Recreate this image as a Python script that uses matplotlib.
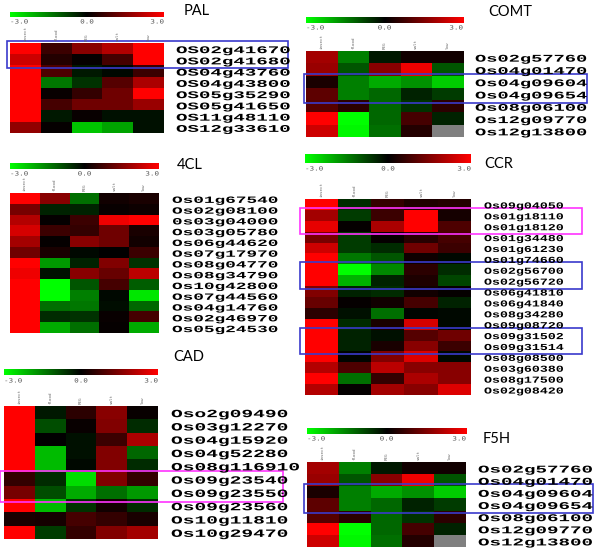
import numpy as np
import matplotlib
matplotlib.use('Agg')
import matplotlib.pyplot as plt
from matplotlib.colors import LinearSegmentedColormap
from matplotlib.patches import Rectangle
from matplotlib.transforms import Affine2D
from matplotlib import patheffects

nan = np.nan
conditions = ['insect', 'flood', 'PEG', 'salt', 'low']

pal_genes = ['OS02g41670', 'OS02g41680', 'OS04g43760', 'OS04g43800',
             'OS05g35290', 'OS05g41650', 'OS11g48110', 'OS12g33610']
pal_vals = [
    [3.0, 0.7, 1.6, 2.1, 3.0],
    [2.4, 0.4, 0.05, 0.8, 3.0],
    [3.0, 0.9, -0.3, -0.1, 0.7],
    [3.0, -1.4, -0.6, 1.0, 2.0],
    [3.0, 0.1, 0.6, 1.3, 3.0],
    [3.0, 0.8, 1.3, 1.3, 1.8],
    [3.0, -0.3, 0.1, -0.2, -0.2],
    [1.7, 0.05, -2.3, -1.9, -0.2],
]

comt_genes = ['Os02g57760', 'Os04g01470', 'Os04g09604', 'Os04g09654',
              'Os08g06100', 'Os12g09770', 'Os12g13800']
comt_vals = [
    [1.9, -1.5, -0.3, 0.2, 0.2],
    [1.8, -1.0, 1.6, 2.8, -1.0],
    [0.3, -1.5, -2.0, -1.7, -2.4],
    [1.1, -1.5, -1.2, -0.4, -0.7],
    [1.0, 0.5, -1.2, -0.6, 0.5],
    [3.0, -3.0, -1.2, 0.8, -0.4],
    [2.4, -2.9, -1.3, 0.4, nan],
]

cl4_genes = ['Os01g67540', 'Os02g08100', '0s03g04000', 'Os03g05780',
             'Os06g44620', 'Os07g17970', 'Os08g04770', 'Os08g34790',
             'Os10g42800', 'Os07g44560', 'Os04g14760', 'Os02g46970',
             'Os05g24530']
cl4_vals = [
    [3.0, 1.6, -1.3, 0.2, 0.3],
    [1.4, -0.4, -0.4, 0.1, 0.15],
    [2.1, 0.05, 0.7, 2.8, 3.0],
    [2.5, 0.7, 0.6, 1.3, 0.3],
    [1.9, 0.05, 1.6, 1.3, 0.2],
    [1.3, 0.3, -0.1, 0.0, 0.7],
    [3.0, -1.8, -0.4, 1.5, -0.6],
    [2.8, -0.2, 1.6, 1.2, 2.2],
    [3.0, -3.0, -1.0, 0.8, -1.1],
    [3.0, -3.0, -1.5, -0.1, -2.7],
    [3.0, -1.3, -1.4, -0.15, -1.2],
    [3.0, -0.5, -0.6, 0.1, 0.8],
    [3.0, -2.0, -1.3, 0.05, -2.0],
]

ccr_genes = ['Os09g04050', 'Os01g18110', 'Os01g18120', 'Os01g34480',
             'Os01g61230', 'Os01g74660', 'Os02g56700', 'Os02g56720',
             'Os06g41810', 'Os06g41840', 'Os08g34280', 'Os09g08720',
             'Os09g31502', 'Os09g31514', 'Os08g08500', 'Os03g60380',
             'Os08g17500', 'Os02g08420']
ccr_vals = [
    [3.0, -0.5, 0.6, 0.35, 0.4],
    [1.9, -0.7, 0.7, 3.0, 0.25],
    [2.7, 0.05, 2.0, 3.0, 0.9],
    [1.4, -0.7, 0.05, 0.45, 0.8],
    [2.4, -0.7, -0.5, 1.3, 0.7],
    [3.0, -1.4, -1.0, 0.15, -0.1],
    [3.0, -3.0, -1.6, 0.5, -0.5],
    [3.0, -2.1, -0.4, 0.35, -0.8],
    [1.5, -0.4, -0.5, 0.2, 0.05],
    [1.2, 0.05, 0.2, 0.8, -0.4],
    [0.5, -0.2, -1.3, -0.05, -0.1],
    [3.0, -0.5, 0.3, 2.5, -0.1],
    [3.0, -0.4, -0.2, 1.0, 1.3],
    [3.0, -0.4, 0.3, 1.6, 0.7],
    [3.0, -0.05, 1.5, 2.6, -0.1],
    [2.1, 0.9, 2.2, 1.6, 1.6],
    [3.0, -1.3, 0.6, 2.0, 1.6],
    [2.1, 0.05, 1.9, 1.6, 2.6],
]

cad_genes = ['Oso2g09490', 'Os03g12270', 'Os04g15920', 'Os04g52280',
             'Os08g116910', 'Os09g23540', 'Os09g23550', 'Os09g23560',
             'Os10g11810', 'Os10g29470']
cad_vals = [
    [3.0, -0.3, 0.5, 1.6, 0.1],
    [3.0, -0.9, 0.1, 1.5, -0.5],
    [3.0, 0.02, -0.2, 0.7, 2.0],
    [3.0, -2.2, -0.2, 1.5, -1.2],
    [3.0, -2.2, -0.1, 1.5, -0.5],
    [0.6, -0.5, -2.6, 1.5, 0.6],
    [1.4, -0.9, -2.0, -1.3, -1.8],
    [3.0, -2.2, -0.6, 0.2, -0.5],
    [0.3, 0.25, 0.8, 0.6, 0.3],
    [3.0, -0.7, 0.6, 1.5, 1.9],
]

f5h_genes = comt_genes
f5h_vals = comt_vals

W, H = 600, 553

# layout in pixels: colorbar box, heatmap box, tick-label y, label x,
# label font size, label stretch, title (x, baseline)
panels = [
    dict(title='PAL', genes=pal_genes, vals=pal_vals, bar=(10, 12, 164, 17),
         hm=(10, 43, 164, 133), ticky=22, lx=176, fs=7.4, sx=1.86, tpos=(184, 15)),
    dict(title='COMT', genes=comt_genes, vals=comt_vals, bar=(306, 17, 463, 23),
         hm=(306, 51, 463, 137), ticky=28, lx=475, fs=7.4, sx=1.82, tpos=(488, 16)),
    dict(title='4CL', genes=cl4_genes, vals=cl4_vals, bar=(10, 163, 159, 169),
         hm=(10, 193, 159, 333), ticky=174, lx=172, fs=6.9, sx=1.85, tpos=(177, 169)),
    dict(title='CCR', genes=ccr_genes, vals=ccr_vals, bar=(305, 154, 471, 163),
         hm=(305, 199, 471, 395), ticky=169, lx=484, fs=6.6, sx=1.45, tpos=(484, 168)),
    dict(title='CAD', genes=cad_genes, vals=cad_vals, bar=(4, 369, 158, 375),
         hm=(4, 406, 158, 539), ticky=381, lx=171, fs=8.0, sx=1.76, tpos=(173, 361)),
    dict(title='F5H', genes=f5h_genes, vals=f5h_vals, bar=(307, 428, 466, 434),
         hm=(307, 462, 466, 547), ticky=439, lx=478, fs=7.5, sx=1.84, tpos=(483, 443)),
]

# (panel index, first row, last row, colour, left px, right px)
highlights = [
    (0, 0, 1, '#3a3acc', 7, 288),
    (1, 2, 3, '#3a3acc', 304, 587),
    (3, 1, 2, '#ff33ff', 300, 582),
    (3, 6, 7, '#3a3acc', 300, 582),
    (3, 12, 13, '#3a3acc', 300, 582),
    (4, 5, 6, '#ff33ff', 0, 283),
    (5, 2, 3, '#3a3acc', 304, 593),
]


class Stretch(patheffects.AbstractPathEffect):
    # widen glyphs horizontally, the labels in the figure are stretched
    def __init__(self, sx):
        super().__init__()
        self.sx = sx

    def draw_path(self, renderer, gc, tpath, affine, rgbFace=None):
        renderer.draw_path(gc, tpath, Affine2D().scale(self.sx, 1) + affine, rgbFace)


cmap = LinearSegmentedColormap.from_list('gbr', ['#00ff00', '#000000', '#ff0000'])
cmap.set_bad('#808080')

fig = plt.figure(figsize=(W / 100, H / 100), dpi=100)


def px_axes(box):
    x0, y0, x1, y1 = box
    ax = fig.add_axes([x0 / W, 1 - y1 / H, (x1 - x0) / W, (y1 - y0) / H])
    ax.axis('off')
    return ax


for p in panels:
    bax = px_axes(p['bar'])
    bax.imshow(np.linspace(-3, 3, 256)[None, :], cmap=cmap, vmin=-3, vmax=3,
               aspect='auto', interpolation='bilinear')
    hax = px_axes(p['hm'])
    hax.imshow(np.array(p['vals'], dtype=float), cmap=cmap, vmin=-3, vmax=3,
               aspect='auto', interpolation='nearest')

canvas = fig.add_axes([0, 0, 1, 1])
canvas.set_xlim(0, W)
canvas.set_ylim(H, 0)
canvas.axis('off')

tick_fs, tick_sx = 4.2, 1.3
tick_adv = 0.6 * tick_fs * 100 / 72 * tick_sx
for p in panels:
    bx0, by0, bx1, by1 = p['bar']
    for s, frac, xa in [('-3.0', 0, bx0), ('0.0', 0.5, (bx0 + bx1) / 2), ('3.0', 1, bx1)]:
        canvas.text(xa - frac * len(s) * tick_adv, p['ticky'], s, ha='left', va='center',
                    fontsize=tick_fs, family='DejaVu Sans Mono', color='#555555',
                    path_effects=[Stretch(tick_sx)])

    hx0, hy0, hx1, hy1 = p['hm']
    col_w = (hx1 - hx0) / len(conditions)
    row_h = (hy1 - hy0) / len(p['genes'])
    for j, c in enumerate(conditions):
        canvas.text(hx0 + (j + 0.5) * col_w, hy0 - 2, c, rotation=90,
                    ha='center', va='bottom', fontsize=3, family='DejaVu Sans Mono',
                    color='#666666')
    for i, g in enumerate(p['genes']):
        canvas.text(p['lx'], hy0 + (i + 0.5) * row_h + 1.5, g, ha='left', va='center',
                    fontsize=p['fs'], family='Liberation Mono', weight='bold',
                    path_effects=[Stretch(p['sx'])])
    canvas.text(p['tpos'][0], p['tpos'][1], p['title'], ha='left', va='baseline',
                fontsize=10.5, family='Lato')

for k, r0, r1, col, x0, x1 in highlights:
    hx0, hy0, hx1, hy1 = panels[k]['hm']
    row_h = (hy1 - hy0) / len(panels[k]['genes'])
    y0 = hy0 + r0 * row_h - 2
    y1 = hy0 + (r1 + 1) * row_h + 2.5
    canvas.add_patch(Rectangle((x0, y0), x1 - x0, y1 - y0, fill=False,
                               edgecolor=col, linewidth=1.2))

fig.savefig('out.png', dpi=100)
